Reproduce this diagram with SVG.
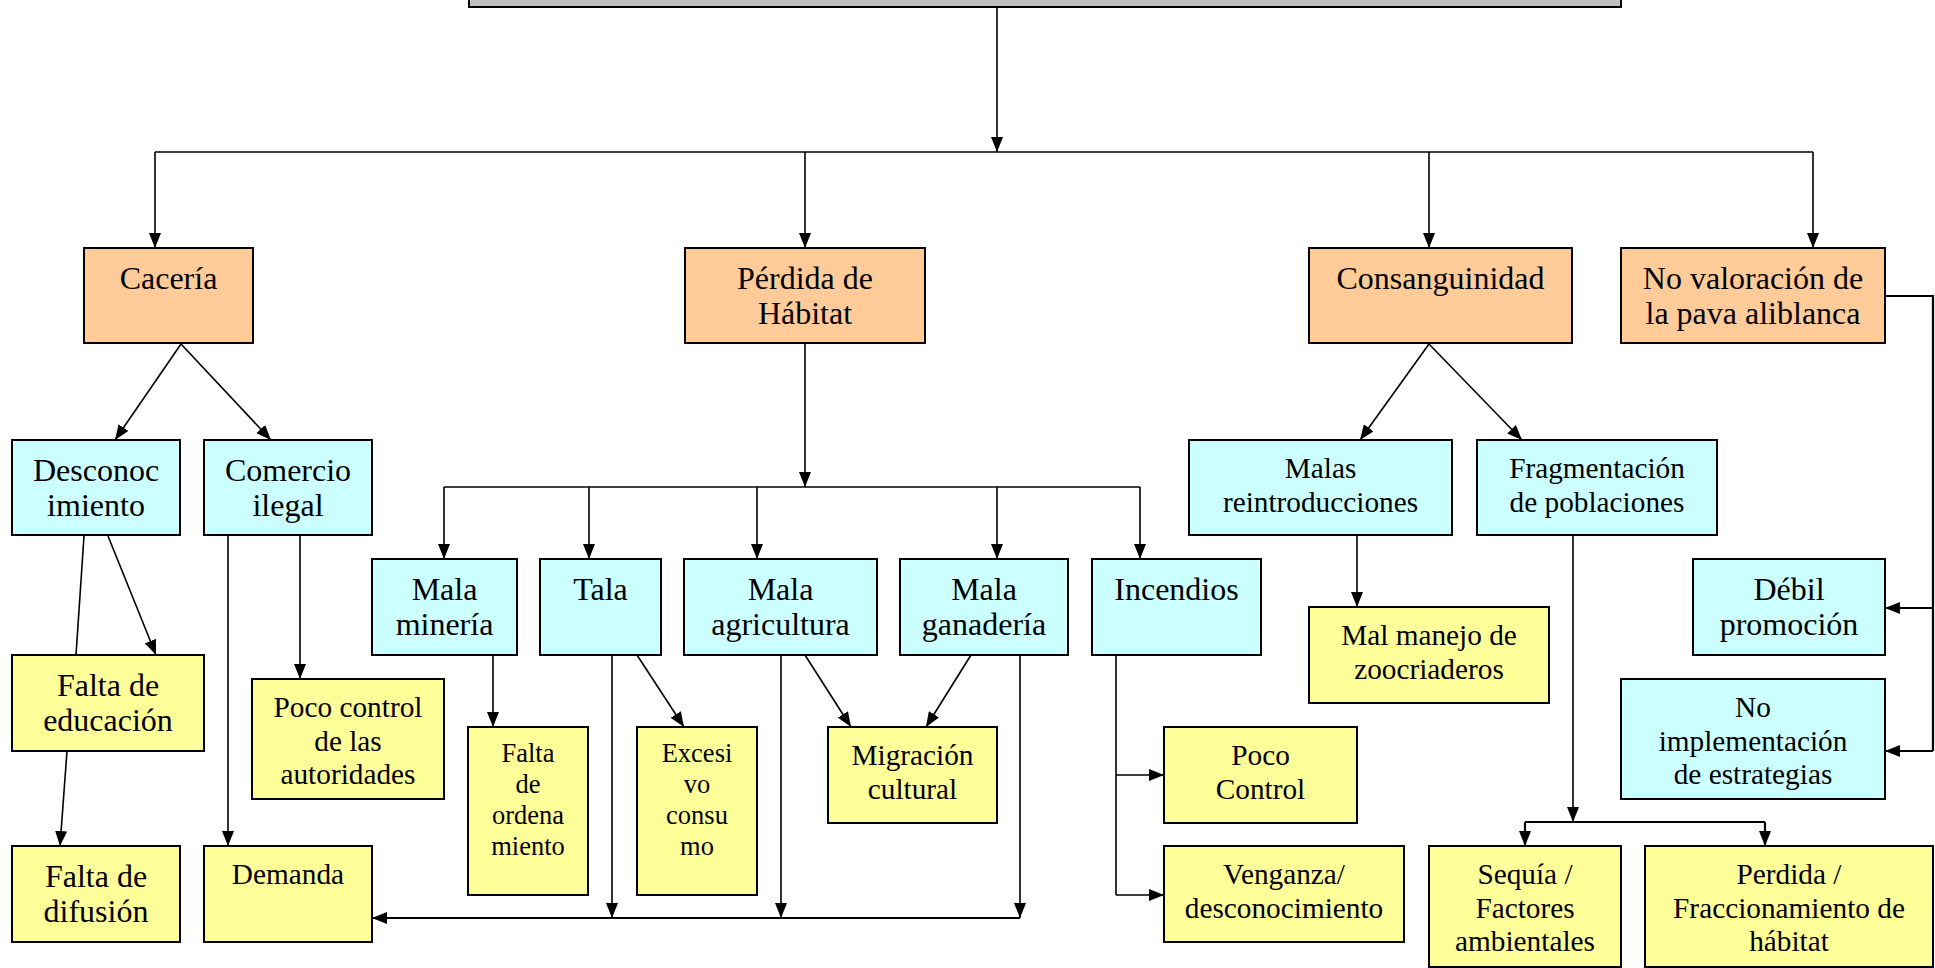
<svg xmlns="http://www.w3.org/2000/svg" width="1935" height="968" viewBox="0 0 1935 968">
<style>
.b{stroke:#000;stroke-width:2}
.o{fill:#FFCC99}.c{fill:#CCFFFF}.y{fill:#FFFF99}.g{fill:#C0C0C0}
text{font-family:"Liberation Serif","Times New Roman",serif;fill:#000;text-anchor:middle}
.L{font-size:32px}.S{font-size:29.3px}.T{font-size:26.5px}
.k{stroke:#000;stroke-width:1.6;fill:none}
.k2{stroke:#000;stroke-width:2.2;fill:none}
.a{marker-end:url(#ar)}
</style>
<defs>
<marker id="ar" markerUnits="userSpaceOnUse" markerWidth="15" markerHeight="12" refX="15" refY="6" orient="auto">
<path d="M0,0 L15,6 L0,12 z" fill="#000"/>
</marker>
</defs>
<g id="top"><rect class="b g" x="469" y="-10" width="1152" height="17"/></g>
<g id="connectors">
<path class="k a" d="M997,7 V152"/>
<path class="k" d="M155,152 H1813"/>
<path class="k a" d="M155,152 V248"/>
<path class="k a" d="M805,152 V248"/>
<path class="k a" d="M1429,152 V248"/>
<path class="k a" d="M1813,152 V248"/>
<path class="k a" d="M181,344 L115,440"/>
<path class="k a" d="M181,344 L271,440"/>
<path class="k a" d="M1429,344 L1360,440"/>
<path class="k a" d="M1429,344 L1522,440"/>
<path class="k" d="M84,536 L76,655"/>
<path class="k a" d="M67,751 L60,846"/>
<path class="k a" d="M108,536 L156,655"/>
<path class="k a" d="M228,536 V846"/>
<path class="k a" d="M300,536 V679"/>
<path class="k a" d="M805,344 V487"/>
<path class="k" d="M444,487 H1140"/>
<path class="k a" d="M444,487 V559"/>
<path class="k a" d="M589,487 V559"/>
<path class="k a" d="M757,487 V559"/>
<path class="k a" d="M997,487 V559"/>
<path class="k a" d="M1140,487 V559"/>
<path class="k a" d="M493,655 V727"/>
<path class="k a" d="M612,655 V918"/>
<path class="k a" d="M637,655 L684,727"/>
<path class="k a" d="M781,655 V918"/>
<path class="k a" d="M805,655 L851,727"/>
<path class="k a" d="M971,655 L926,727"/>
<path class="k a" d="M1020,655 V918"/>
<path class="k2 a" d="M1020,918 H372"/>
<path class="k" d="M1116,655 V895"/>
<path class="k a" d="M1116,775 H1164"/>
<path class="k a" d="M1116,895 H1164"/>
<path class="k a" d="M1357,535 V607"/>
<path class="k a" d="M1573,535 V822"/>
<path class="k2" d="M1525,822 H1765"/>
<path class="k2 a" d="M1525,822 V846"/>
<path class="k2 a" d="M1765,822 V846"/>
<path class="k2" d="M1885,296 H1933 V751"/>
<path class="k2 a" d="M1933,608 H1885"/>
<path class="k2 a" d="M1933,751 H1885"/>
</g>
<g id="caceria"><rect class="b o" x="84" y="248" width="169" height="95"/><text class="L" x="168.5" y="289">Cacería</text></g>
<g id="perdida-habitat"><rect class="b o" x="685" y="248" width="240" height="95"/><text class="L" x="805" y="289">Pérdida de</text><text class="L" x="805" y="324">Hábitat</text></g>
<g id="consanguinidad"><rect class="b o" x="1309" y="248" width="263" height="95"/><text class="L" x="1440.5" y="289">Consanguinidad</text></g>
<g id="no-valoracion"><rect class="b o" x="1621" y="248" width="264" height="95"/><text class="L" x="1753" y="289">No valoración de</text><text class="L" x="1753" y="324">la pava aliblanca</text></g>
<g id="desconocimiento"><rect class="b c" x="12" y="440" width="168" height="95"/><text class="L" x="96" y="481">Desconoc</text><text class="L" x="96" y="516">imiento</text></g>
<g id="comercio-ilegal"><rect class="b c" x="204" y="440" width="168" height="95"/><text class="L" x="288" y="481">Comercio</text><text class="L" x="288" y="516">ilegal</text></g>
<g id="malas-reintroducciones"><rect class="b c" x="1189" y="440" width="263" height="95"/><text class="S" x="1320.5" y="478">Malas</text><text class="S" x="1320.5" y="511.5">reintroducciones</text></g>
<g id="fragmentacion"><rect class="b c" x="1477" y="440" width="240" height="95"/><text class="S" x="1597" y="478">Fragmentación</text><text class="S" x="1597" y="511.5">de poblaciones</text></g>
<g id="mala-mineria"><rect class="b c" x="372" y="559" width="145" height="96"/><text class="L" x="444.5" y="600">Mala</text><text class="L" x="444.5" y="635">minería</text></g>
<g id="tala"><rect class="b c" x="540" y="559" width="121" height="96"/><text class="L" x="600.5" y="600">Tala</text></g>
<g id="mala-agricultura"><rect class="b c" x="684" y="559" width="193" height="96"/><text class="L" x="780.5" y="600">Mala</text><text class="L" x="780.5" y="635">agricultura</text></g>
<g id="mala-ganaderia"><rect class="b c" x="900" y="559" width="168" height="96"/><text class="L" x="984" y="600">Mala</text><text class="L" x="984" y="635">ganadería</text></g>
<g id="incendios"><rect class="b c" x="1092" y="559" width="169" height="96"/><text class="L" x="1176.5" y="600">Incendios</text></g>
<g id="debil-promocion"><rect class="b c" x="1693" y="559" width="192" height="96"/><text class="L" x="1789" y="600">Débil</text><text class="L" x="1789" y="635">promoción</text></g>
<g id="no-implementacion"><rect class="b c" x="1621" y="679" width="264" height="120"/><text class="S" x="1753" y="717">No</text><text class="S" x="1753" y="750.5">implementación</text><text class="S" x="1753" y="784">de estrategias</text></g>
<g id="falta-educacion"><rect class="b y" x="12" y="655" width="192" height="96"/><text class="L" x="108" y="696">Falta de</text><text class="L" x="108" y="731">educación</text></g>
<g id="poco-control-autoridades"><rect class="b y" x="252" y="679" width="192" height="120"/><text class="S" x="348" y="717">Poco control</text><text class="S" x="348" y="750.5">de las</text><text class="S" x="348" y="784">autoridades</text></g>
<g id="falta-ordenamiento"><rect class="b y" x="468" y="727" width="120" height="168"/><text class="T" x="528" y="762">Falta</text><text class="T" x="528" y="793">de</text><text class="T" x="528" y="824">ordena</text><text class="T" x="528" y="855">miento</text></g>
<g id="excesivo-consumo"><rect class="b y" x="637" y="727" width="120" height="168"/><text class="T" x="697" y="762">Excesi</text><text class="T" x="697" y="793">vo</text><text class="T" x="697" y="824">consu</text><text class="T" x="697" y="855">mo</text></g>
<g id="migracion-cultural"><rect class="b y" x="828" y="727" width="169" height="96"/><text class="S" x="912.5" y="765">Migración</text><text class="S" x="912.5" y="798.5">cultural</text></g>
<g id="poco-control"><rect class="b y" x="1164" y="727" width="193" height="96"/><text class="S" x="1260.5" y="765">Poco</text><text class="S" x="1260.5" y="798.5">Control</text></g>
<g id="venganza"><rect class="b y" x="1164" y="846" width="240" height="96"/><text class="S" x="1284" y="884">Venganza/</text><text class="S" x="1284" y="917.5">desconocimiento</text></g>
<g id="mal-manejo"><rect class="b y" x="1309" y="607" width="240" height="96"/><text class="S" x="1429" y="645">Mal manejo de</text><text class="S" x="1429" y="678.5">zoocriaderos</text></g>
<g id="falta-difusion"><rect class="b y" x="12" y="846" width="168" height="96"/><text class="L" x="96" y="887">Falta de</text><text class="L" x="96" y="922">difusión</text></g>
<g id="demanda"><rect class="b y" x="204" y="846" width="168" height="96"/><text class="S" x="288" y="884">Demanda</text></g>
<g id="sequia"><rect class="b y" x="1429" y="846" width="192" height="121"/><text class="S" x="1525" y="884">Sequía /</text><text class="S" x="1525" y="917.5">Factores</text><text class="S" x="1525" y="951">ambientales</text></g>
<g id="perdida-fraccionamiento"><rect class="b y" x="1645" y="846" width="288" height="121"/><text class="S" x="1789" y="884">Perdida /</text><text class="S" x="1789" y="917.5">Fraccionamiento de</text><text class="S" x="1789" y="951">hábitat</text></g>
</svg>
